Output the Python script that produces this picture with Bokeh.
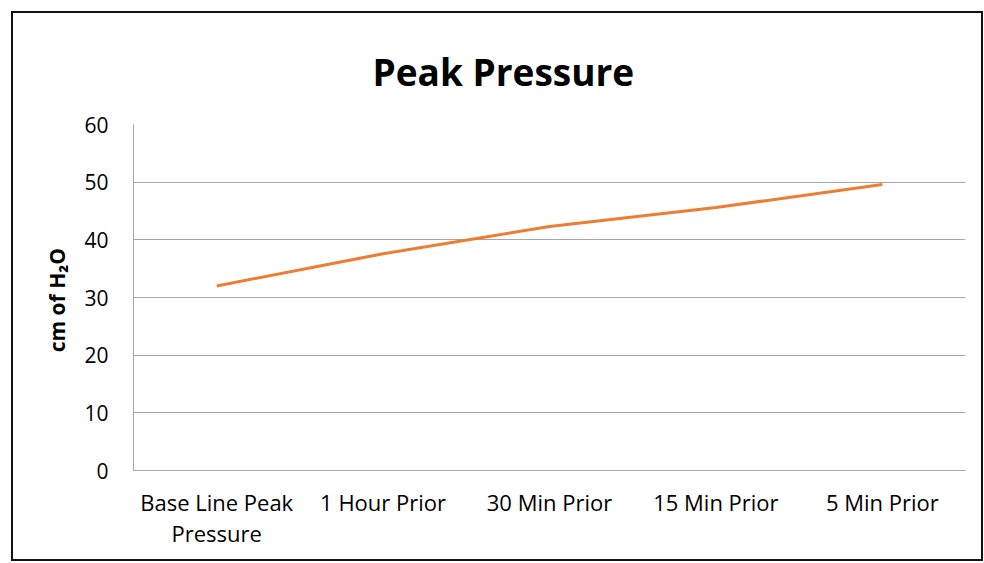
from bokeh.plotting import figure
from bokeh.models import FactorRange, Range1d, Title
from bokeh.embed import file_html
from bokeh.resources import INLINE

categories = ["Base Line Peak\nPressure", "1 Hour Prior", "30 Min Prior", "15 Min Prior", "5 Min Prior"]
peak_pressure = [32.0, 37.6, 42.3, 45.6, 49.6]
y_ticks = [0, 10, 20, 30, 40, 50, 60]

FONT = "Open Sans"

p = figure(
    x_range=FactorRange(*categories, range_padding=0),
    y_range=Range1d(0, 60),
    width=972, height=550,
    output_backend="svg", toolbar_location=None,
    min_border_left=120, min_border_right=20, min_border_top=111, min_border_bottom=93,
)
p.margin = (11, 0, 0, 11)
p.styles = {"border": "2px solid #111111"}
p.outline_line_color = None
p.background_fill_color = "white"
p.border_fill_color = "white"

p.line(x=categories, y=peak_pressure, line_color="#ED7D31", line_width=3)

p.xgrid.grid_line_color = None
p.ygrid.grid_line_color = "#A6A6A6"
p.ygrid.grid_line_width = 1
p.yaxis.ticker = y_ticks

for ax in (p.xaxis, p.yaxis):
    ax.axis_line_color = "#A6A6A6"
    ax.major_tick_line_color = None
    ax.minor_tick_line_color = None
    ax.major_label_text_font = FONT
    ax.major_label_text_color = "#000000"

p.xaxis.major_label_text_font_size = "22px"
p.xaxis.major_label_text_line_height = 1.05
p.yaxis.major_label_text_font_size = "21px"
p.yaxis.major_label_standoff = 19
p.xaxis.major_label_standoff = 10
p.yaxis.axis_label = "cm of  H\u2082O"
p.yaxis.axis_label_text_font = FONT
p.yaxis.axis_label_text_font_style = "bold"
p.yaxis.axis_label_text_font_size = "21px"
p.yaxis.axis_label_text_color = "#000000"
p.yaxis.axis_label_standoff = 10

title = Title(text="Peak Pressure", align="left", offset=239, standoff=55,
              text_font=FONT, text_font_style="bold", text_font_size="37px", text_color="#000000")
p.add_layout(title, "above")

open("out.html", "w").write(file_html(p, INLINE))
